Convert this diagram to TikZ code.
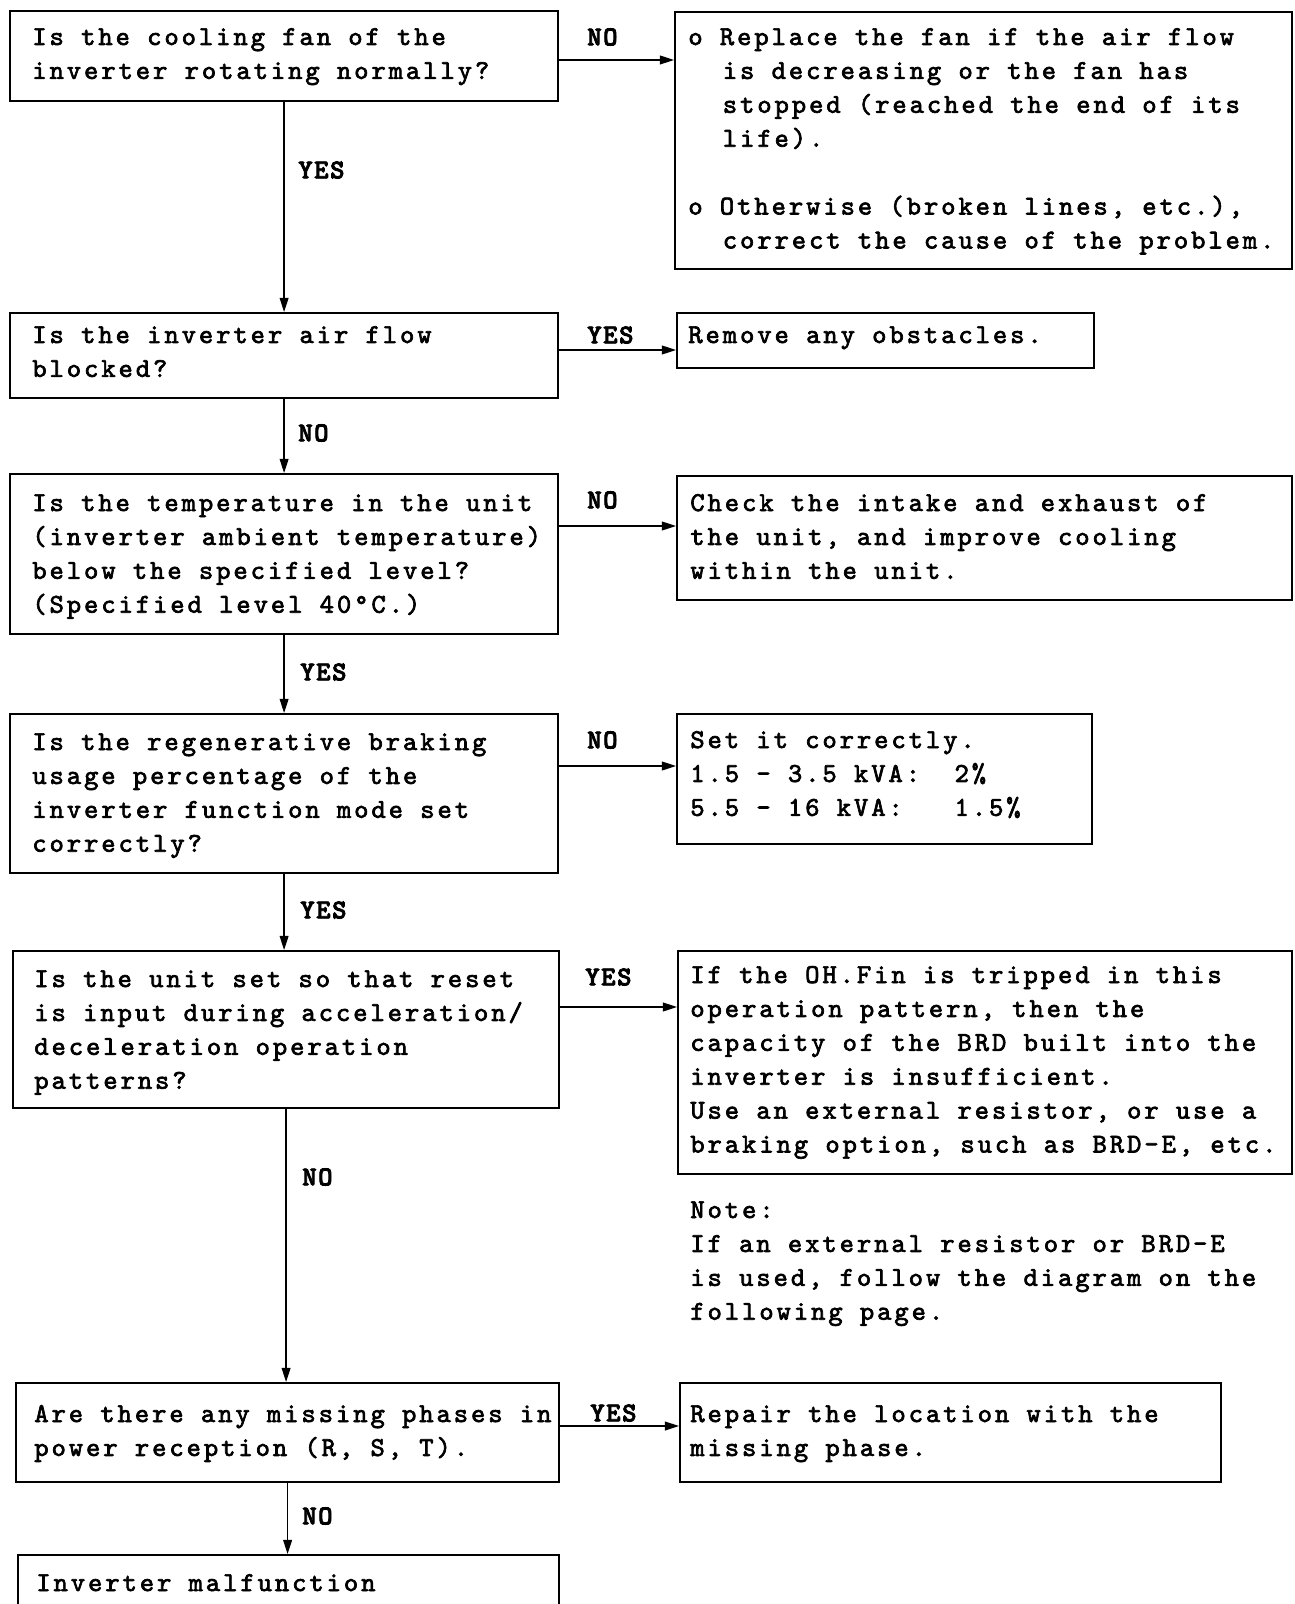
\documentclass[tikz,border=0pt]{standalone}
\usepackage{fontspec}
\usetikzlibrary{arrows.meta}
% typewriter faces, tracked out to a 9.82pt character pitch
\newfontfamily\chartfont{lmmono10-regular.otf}[LetterSpace=10.85, FakeBold=2.5]
\newfontfamily\tagfont{lmmonolt10-bold.otf}[LetterSpace=6, FakeBold=3]
\newcommand\fixspaces{\frenchspacing\spaceskip 9.82pt\xspaceskip 9.82pt\relax}
\newcommand\chartsetup{\chartfont\fontsize{15.5}{19.3}\selectfont\fixspaces}
\newcommand\tagsetup{\tagfont\fontsize{15.5}{19.3}\selectfont}
\newcommand\bulletindent{\hspace*{19.64pt}}

\begin{document}
\begin{tikzpicture}[x=0.02cm, y=-0.02cm,
  qbox/.style={draw, line width=1.3pt, rectangle, inner sep=0pt, anchor=north west},
  body/.style={anchor=base west, inner sep=0pt, text width=12.8cm, font=\chartsetup,
    execute at begin node=\fixspaces},
  tag/.style={anchor=west, inner sep=0pt, font=\tagsetup},
  arr/.style={line width=0.75pt, -{Triangle[length=8pt,width=5pt]}},
]
\useasboundingbox (0,0) rectangle (1294,1604);
\fill[white] (0,0) rectangle (1294,1604);
\clip (0,0) rectangle (1294,1604);

% question boxes (left column)
\node[qbox, minimum width=10.96cm, minimum height=1.8cm]  (b1) at (9,10) {};
\node[qbox, minimum width=10.96cm, minimum height=1.7cm]  (b2) at (9,312) {};
\node[qbox, minimum width=10.96cm, minimum height=3.2cm]  (b3) at (9,473) {};
\node[qbox, minimum width=10.96cm, minimum height=3.18cm] (b4) at (9,713) {};
\node[qbox, minimum width=10.92cm, minimum height=3.14cm] (b5) at (12,950) {};
\node[qbox, minimum width=10.86cm, minimum height=1.98cm] (b6) at (15,1382) {};
\node[qbox, minimum width=10.82cm, minimum height=2cm]    (b7) at (17,1554) {};

% remedy boxes (right column)
\node[qbox, minimum width=12.34cm, minimum height=5.14cm] (r1) at (674,11) {};
\node[qbox, minimum width=8.34cm,  minimum height=1.1cm]  (r2) at (676,312) {};
\node[qbox, minimum width=12.3cm,  minimum height=2.48cm] (r3) at (676,475) {};
\node[qbox, minimum width=8.3cm,   minimum height=2.6cm]  (r4) at (676,713) {};
\node[qbox, minimum width=12.28cm, minimum height=4.46cm] (r5) at (677,950) {};
\node[qbox, minimum width=10.82cm, minimum height=1.98cm] (r6) at (679,1382) {};

% question texts
\node[body] (t1) at (32,45) {Is the cooling fan of the\\inverter rotating normally?};
\node[body] (t2) at (32,343) {Is the inverter air flow\\blocked?};
\node[body] (t3) at (32,511) {Is the temperature in the unit\\(inverter ambient temperature)\\below the specified level?\\(Specified level 40°C.)};
\node[body] (t4) at (32,750) {Is the regenerative braking\\usage percentage of the\\inverter function mode set\\correctly?};
\node[body] (t5) at (34,987) {Is the unit set so that reset\\is input during acceleration/\\deceleration operation\\patterns?};
\node[body] (t6) at (34,1422) {Are there any missing phases in\\power reception (R, S, T).};
\node[body] (t7) at (36,1591) {Inverter malfunction};

% remedy texts
\node[body] (s1) at (688,45) {o Replace the fan if the air flow\\
  \bulletindent is decreasing or the fan has\\
  \bulletindent stopped (reached the end of its\\
  \bulletindent life).\\[19.3pt]
  o Otherwise (broken lines, etc.),\\
  \bulletindent correct the cause of the problem.};
\node[body] (s2) at (688,343) {Remove any obstacles.};
\node[body] (s3) at (690,511) {Check the intake and exhaust of\\the unit, and improve cooling\\within the unit.};
\node[body] (s4) at (690,748) {Set it correctly.\\1.5 - 3.5 kVA:\ \ 2\%\\5.5 - 16 kVA:\ \ \ 1.5\%};
\node[body] (s5) at (690,983) {If the OH.Fin is tripped in this\\operation pattern, then the\\capacity of the BRD built into the\\inverter is insufficient.\\Use an external resistor, or use a\\braking option, such as BRD-E, etc.};
\node[body] (note) at (690,1218) {Note:\\If an external resistor or BRD-E\\is used, follow the diagram on the\\following page.};
\node[body] (s6) at (690,1422) {Repair the location with the\\missing phase.};

% main flow
\draw[arr] (b1.south) -- (b1.south |- b2.north);
\draw[arr] (b2.south) -- (b2.south |- b3.north);
\draw[arr] (b3.south) -- (b3.south |- b4.north);
\draw[arr] (b4.south) -- (b4.south |- b5.north);
\draw[arr] (b5.south) -- (b5.south |- b6.north);
\draw[arr] (b6.south) -- (b6.south |- b7.north);

% side branches
\coordinate (h1) at (0,60);
\coordinate (h2) at (0,350);
\coordinate (h3) at (0,526);
\coordinate (h4) at (0,766);
\coordinate (h5) at (0,1007);
\coordinate (h6) at (0,1426);
\draw[arr] (b1.east |- h1) -- (r1.west |- h1);
\draw[arr] (b2.east |- h2) -- (r2.west |- h2);
\draw[arr] (b3.east |- h3) -- (r3.west |- h3);
\draw[arr] (b4.east |- h4) -- (r4.west |- h4);
\draw[arr] (b5.east |- h5) -- (r5.west |- h5);
\draw[arr] (b6.east |- h6) -- (r6.west |- h6);

% answer labels
\node[tag] (n1)  at (587,37)   {NO};
\node[tag] (y1)  at (298,170)  {YES};
\node[tag] (y2)  at (587,335)  {YES};
\node[tag] (n2)  at (298,433)  {NO};
\node[tag] (n3)  at (587,500)  {NO};
\node[tag] (y3)  at (300,672)  {YES};
\node[tag] (n4)  at (587,740)  {NO};
\node[tag] (y4)  at (300,910)  {YES};
\node[tag] (y5)  at (585,977)  {YES};
\node[tag] (n5)  at (302,1177) {NO};
\node[tag] (y6)  at (590,1413) {YES};
\node[tag] (n6)  at (302,1516) {NO};
\end{tikzpicture}
\end{document}
